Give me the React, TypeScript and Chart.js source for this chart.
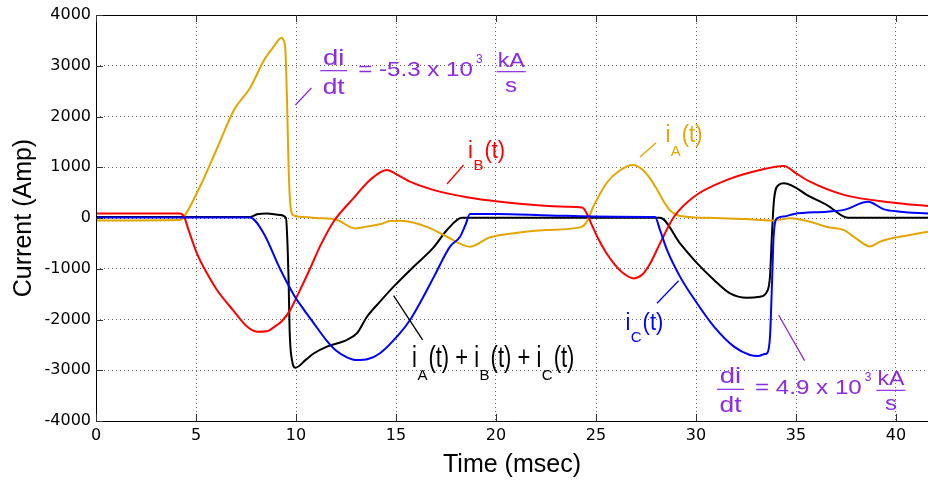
import { useEffect, useRef } from 'react';
import { Chart, registerables } from 'chart.js';

Chart.register(...registerables);

// ---------- axis ranges / ticks ----------
const X_MIN = 0;
const X_MAX = 41.6;
const Y_MIN = -4000;
const Y_MAX = 4000;
const timeTicks = [0, 5, 10, 15, 20, 25, 30, 35, 40];
const currentTicks = [-4000, -3000, -2000, -1000, 0, 1000, 2000, 3000, 4000];

// ---------- series (time in msec, current in Amp) ----------
const iA_t = [0, 4.2, 4.35, 5.2, 6.05, 6.9, 7.7, 8.4, 8.88, 9.27, 9.38, 9.47, 9.55, 9.63, 9.7, 9.85, 10.2, 11.0, 12.05, 12.96, 13.55, 14.2, 14.7, 15.2, 15.9, 16.7, 17.55, 18.7, 19.7, 20.9, 22.5, 24.2, 24.5, 24.9, 25.55, 26.2, 26.85, 27.3, 27.7, 28.05, 28.38, 28.7, 29.05, 29.5, 31.0, 32.5, 33.9, 34.7, 35.7, 36.55, 37.4, 38.0, 38.7, 39.2, 39.9, 40.7, 41.6];
const iA_v = [-50, -40, 0, 620, 1370, 2130, 2560, 3110, 3375, 3550, 3500, 3310, 2320, 1010, 355, 60, 25, 0, -40, -205, -170, -125, -60, -55, -92, -200, -370, -565, -380, -300, -235, -185, -100, 250, 700, 940, 1045, 960, 780, 560, 330, 150, 60, 25, 0, -20, -50, -5, -72, -177, -240, -400, -560, -466, -390, -335, -270];

const iB_t = [0, 4.2, 4.4, 4.63, 5.05, 5.55, 6.05, 6.88, 7.55, 8.05, 8.55, 8.9, 9.3, 9.7, 10.2, 10.7, 11.2, 11.9, 12.9, 13.7, 14.55, 14.9, 15.7, 16.9, 18.55, 20.2, 21.9, 23.5, 24.3, 24.5, 24.75, 25.1, 25.5, 25.9, 26.3, 26.9, 27.3, 27.7, 28.2, 28.9, 29.9, 31.55, 33.2, 34.4, 35.0, 35.7, 37.4, 39.9, 41.6];
const iB_v = [90, 90, 30, -240, -700, -1090, -1418, -1830, -2140, -2240, -2230, -2150, -2030, -1820, -1420, -1000, -560, -60, 400, 750, 945, 890, 715, 550, 410, 320, 255, 220, 205, 120, -100, -400, -680, -900, -1070, -1190, -1120, -900, -500, 25, 420, 750, 945, 1025, 880, 715, 455, 300, 235];

const iC_t = [0, 7.7, 8.38, 9.2, 9.9, 10.4, 10.9, 11.5, 12.0, 12.55, 13.05, 13.6, 14.2, 15.2, 15.7, 16.3, 16.9, 17.7, 18.2, 18.47, 18.7, 20.0, 22.7, 25.9, 27.95, 28.2, 28.55, 29.2, 30.05, 30.9, 31.9, 32.7, 33.1, 33.45, 33.55, 33.7, 33.8, 33.88, 34.05, 34.4, 34.9, 36.55, 37.4, 38.6, 39.4, 40.2, 41.6];
const iC_v = [10, 10, -300, -1000, -1520, -1810, -2080, -2400, -2610, -2745, -2800, -2780, -2665, -2270, -2010, -1600, -1155, -565, -368, -138, 80, 80, 50, 25, 20, -236, -630, -1155, -1680, -2140, -2535, -2700, -2720, -2680, -2665, -2338, -1287, -368, -7, 30, 80, 125, 160, 320, 170, 125, 90];

const iSum_t = [0, 7.7, 8.05, 8.55, 9.2, 9.5, 9.58, 9.63, 9.68, 9.8, 9.97, 10.5, 10.9, 11.55, 12.55, 13.05, 13.55, 14.2, 14.88, 15.88, 16.88, 17.55, 18.3, 28.2, 29.2, 30.05, 30.9, 31.7, 32.55, 33.2, 33.55, 33.7, 33.8, 33.9, 34.13, 34.4, 35.7, 36.55, 37.6, 41.6];
const iSum_v = [20, 20, 72, 90, 60, 0, -565, -1220, -2200, -2800, -2950, -2790, -2665, -2535, -2400, -2270, -1945, -1648, -1353, -960, -580, -236, 5, 5, -500, -890, -1220, -1485, -1570, -1550, -1450, -1150, -300, 355, 650, 685, 420, 255, 5, 5];

// ---------- annotation texts ----------
const TOP_RATE_TEXT = '= -5.3 x 10';
const BOTTOM_RATE_TEXT = '= 4.9 x 10';

const COL_A = '#E3A600';
const COL_B = '#FF0000';
const COL_C = '#0000FF';
const COL_SUM = '#000000';
const COL_NOTE = '#8B2BE2';

const SANS = '"Liberation Sans", Arial, Helvetica, sans-serif';
const TICK_FONT = '"DejaVu Sans", sans-serif';

const pts = (t: number[], v: number[]) => t.map((x, i) => ({ x, y: v[i] }));

type Seg = { text: string; sub?: boolean };

function drawSegs(ctx: CanvasRenderingContext2D, x: number, y: number, segs: Seg[], color: string, mainPx: number, subPx: number, subDrop: number, sy: number) {
  ctx.fillStyle = color;
  ctx.textAlign = 'left';
  ctx.textBaseline = 'alphabetic';
  let cx = x;
  for (const s of segs) {
    if (s.sub) {
      ctx.font = `${subPx}px ${SANS}`;
      cx += 0.5;
      ctx.fillText(s.text, cx, y + subDrop);
      cx += ctx.measureText(s.text).width + 1;
    } else {
      ctx.font = `${mainPx}px ${SANS}`;
      ctx.save();
      ctx.translate(cx, y);
      ctx.scale(1, sy);
      ctx.fillText(s.text, 0, 0);
      ctx.restore();
      cx += ctx.measureText(s.text).width;
    }
  }
}

function txt(ctx: CanvasRenderingContext2D, s: string, x: number, y: number, px: number, sx: number, align: CanvasTextAlign) {
  ctx.font = `${px}px ${SANS}`;
  const w = ctx.measureText(s).width * sx;
  let lx = x;
  if (align === 'center') lx = x - w / 2;
  ctx.save();
  ctx.translate(lx, y);
  ctx.scale(sx, 1);
  ctx.textAlign = 'left';
  ctx.fillText(s, 0, 0);
  ctx.restore();
  return w;
}

function drawRate(ctx: CanvasRenderingContext2D, x0: number, y0: number, main: string, gap: number) {
  const SX = 1.15;
  ctx.fillStyle = COL_NOTE;
  ctx.strokeStyle = COL_NOTE;
  ctx.lineWidth = 1.2;
  ctx.textBaseline = 'alphabetic';
  ctx.beginPath();
  ctx.moveTo(x0, y0);
  ctx.lineTo(x0 + 27, y0);
  ctx.stroke();
  txt(ctx, 'di', x0 + 13.5, y0 - 6, 22, 1.25, 'center');
  txt(ctx, 'dt', x0 + 13.5, y0 + 23, 22, 1.2, 'center');
  const w = txt(ctx, main, x0 + 38, y0 + 5, 21, SX, 'left');
  const sw = txt(ctx, '3', x0 + 38 + w + 3, y0 - 8, 12, 1.0, 'left');
  const kx = x0 + 38 + w + 3 + sw + gap;
  ctx.beginPath();
  ctx.moveTo(kx, y0 + 1);
  ctx.lineTo(kx + 29, y0 + 1);
  ctx.stroke();
  txt(ctx, 'kA', kx + 14.5, y0 - 4, 21, 1.1, 'center');
  txt(ctx, 's', kx + 14.5, y0 + 21, 21, 1.15, 'center');
}

const framePlugin = {
  id: 'framePlugin',
  afterDraw(chart: any) {
    const { ctx, chartArea: a, scales } = chart;
    const xs = scales.x;
    const ys = scales.y;
    const px = (t: number) => xs.getPixelForValue(t);
    const py = (v: number) => ys.getPixelForValue(v);
    ctx.save();

    // box
    ctx.strokeStyle = '#000';
    ctx.lineWidth = 1;
    ctx.setLineDash([]);
    ctx.beginPath();
    ctx.moveTo(Math.round(a.left) + 0.5, Math.round(a.top) + 0.5);
    ctx.lineTo(a.right + 2, Math.round(a.top) + 0.5);
    ctx.moveTo(Math.round(a.left) + 0.5, Math.round(a.top) + 0.5);
    ctx.lineTo(Math.round(a.left) + 0.5, Math.round(a.bottom) + 0.5);
    ctx.lineTo(a.right + 2, Math.round(a.bottom) + 0.5);
    ctx.stroke();

    // inward tick marks
    ctx.strokeStyle = '#333';
    ctx.beginPath();
    for (const t of timeTicks) {
      const x = Math.round(px(t)) + 0.5;
      ctx.moveTo(x, a.bottom);
      ctx.lineTo(x, a.bottom - 7);
      ctx.moveTo(x, a.top);
      ctx.lineTo(x, a.top + 7);
    }
    for (const v of currentTicks) {
      const y = Math.round(py(v)) + 0.5;
      ctx.moveTo(a.left, y);
      ctx.lineTo(a.left + 7, y);
    }
    ctx.stroke();

    // axis titles
    ctx.fillStyle = '#000';
    ctx.font = `25px ${SANS}`;
    ctx.textAlign = 'center';
    ctx.textBaseline = 'alphabetic';
    ctx.fillText('Time (msec)', (a.left + a.right) / 2, 471.5);
    ctx.save();
    ctx.translate(31, (a.top + a.bottom) / 2);
    ctx.rotate(-Math.PI / 2);
    ctx.fillText('Current (Amp)', 0, 0);
    ctx.restore();

    // leader lines
    const lead = (t1: number, v1: number, t2: number, v2: number, c: string) => {
      ctx.strokeStyle = c;
      ctx.lineWidth = 1.3;
      ctx.beginPath();
      ctx.moveTo(px(t1), py(v1));
      ctx.lineTo(px(t2), py(v2));
      ctx.stroke();
    };
    lead(17.55, 670, 18.38, 1044, COL_B);
    lead(27.2, 1202, 28.0, 1483, COL_A);
    lead(28.05, -1680, 29.13, -1235, COL_C);
    lead(14.88, -1531, 16.33, -2403, COL_SUM);
    lead(9.97, 2226, 10.77, 2561, COL_NOTE);
    lead(34.13, -1911, 35.43, -2811, COL_NOTE);

    // series labels
    drawSegs(ctx, px(18.6), py(1192), [{ text: 'i' }, { text: 'B', sub: true }, { text: '(t)' }], COL_B, 22, 15, 12, 1.05);
    drawSegs(ctx, px(28.47), py(1503), [{ text: 'i' }, { text: 'A', sub: true }, { text: '(t)' }], COL_A, 22, 15, 14, 1.05);
    drawSegs(ctx, px(26.47), py(-2206), [{ text: 'i' }, { text: 'C', sub: true }, { text: '(t)' }], COL_C, 22, 15, 12, 1.05);
    drawSegs(ctx, px(15.8), py(-2941), [
      { text: 'i' }, { text: 'A', sub: true }, { text: '(t) + ' },
      { text: 'i' }, { text: 'B', sub: true }, { text: '(t) + ' },
      { text: 'i' }, { text: 'C', sub: true }, { text: '(t)' },
    ], COL_SUM, 22, 15, 12.5, 1.3);

    // di/dt annotations
    drawRate(ctx, px(11.21), py(2903), TOP_RATE_TEXT, 14);
    drawRate(ctx, px(31.05), py(-3376), BOTTOM_RATE_TEXT, 5);

    ctx.restore();
  },
};

export default function App() {
  const ref = useRef<HTMLCanvasElement | null>(null);
  useEffect(() => {
    if (!ref.current) return;
    const line = (label: string, t: number[], v: number[], color: string) => ({
      label,
      data: pts(t, v),
      borderColor: color,
      backgroundColor: color,
      borderWidth: 2,
      pointRadius: 0,
      fill: false,
      cubicInterpolationMode: 'monotone' as const,
    });
    const chart = new Chart(ref.current, {
      type: 'line',
      data: {
        datasets: [
          line('iC(t)', iC_t, iC_v, COL_C),
          line('iB(t)', iB_t, iB_v, COL_B),
          line('iA(t)', iA_t, iA_v, COL_A),
          line('iA(t)+iB(t)+iC(t)', iSum_t, iSum_v, COL_SUM),
        ],
      },
      options: {
        animation: false,
        responsive: false,
        devicePixelRatio: 1,
        layout: { padding: { top: 15, left: 0, right: 0, bottom: 0 } },
        plugins: { legend: { display: false }, tooltip: { enabled: false } },
        scales: {
          x: {
            type: 'linear',
            min: X_MIN,
            max: X_MAX,
            afterBuildTicks: (s: any) => { s.ticks = timeTicks.map((value) => ({ value })); },
            afterFit: (s: any) => { s.height = 60; },
            grid: { color: 'rgba(0,0,0,0.6)', lineWidth: 1, drawTicks: false },
            border: { display: false, dash: [1, 3] },
            ticks: { color: '#000', font: { family: TICK_FONT, size: 16 }, padding: 5, maxRotation: 0, callback: (v: any) => String(v) },
          },
          y: {
            type: 'linear',
            min: Y_MIN,
            max: Y_MAX,
            afterBuildTicks: (s: any) => { s.ticks = currentTicks.map((value) => ({ value })); },
            afterFit: (s: any) => { s.width = 96; },
            grid: { color: 'rgba(0,0,0,0.6)', lineWidth: 1, drawTicks: false },
            border: { display: false, dash: [1, 3] },
            ticks: { color: '#000', font: { family: TICK_FONT, size: 16 }, padding: 5, callback: (v: any) => String(v) },
          },
        },
      },
      plugins: [framePlugin],
    });
    return () => chart.destroy();
  }, []);
  return (
    <div style={{ position: 'absolute', left: 0, top: 0, width: 928, height: 481, background: '#fff' }}>
      <canvas ref={ref} width={928} height={481} style={{ display: 'block' }} />
    </div>
  );
}
